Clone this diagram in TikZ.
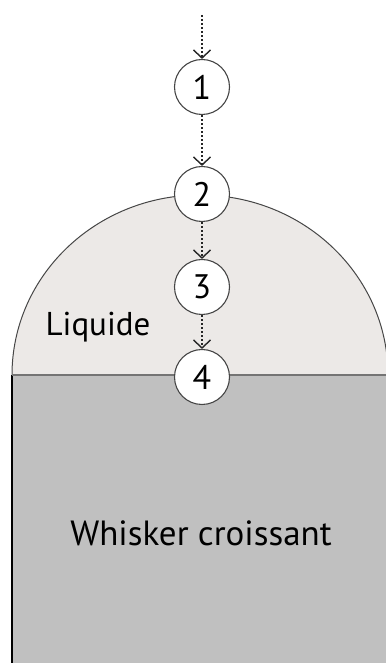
\documentclass[tikz,border=0pt]{standalone}
\usepackage{fontspec}
\setmainfont{PT Sans}
\usetikzlibrary{arrows.meta}
\definecolor{liquidfill}{RGB}{236,233,231}
\definecolor{whiskerfill}{RGB}{192,192,192}
\definecolor{edgegray}{RGB}{70,70,70}
\begin{document}
\begin{tikzpicture}[x=1pt,y=1pt,
  stage/.style={circle,draw=edgegray,line width=1.1pt,fill=white,minimum size=55pt,inner sep=0pt,font=\fontsize{34}{34}\selectfont},
  flow/.style={line width=2.2pt,dash pattern=on 2pt off 2pt,draw=black!85,-{Straight Barb[length=8pt,width=17pt,line width=1.4pt]}}]
\useasboundingbox (0,0) rectangle (385,663);
\fill[whiskerfill] (12,0) rectangle (400,288); \draw[line width=1.2pt] (12,0)--(12,288);
\filldraw[fill=liquidfill,draw=edgegray,line width=1pt] (12,288) arc[start angle=180,end angle=0,x radius=188,y radius=180];
\draw[edgegray!75,line width=1.8pt] (12,288)--(400,288);
\node[stage] (s1) at (202,576){1}; \node[stage] (s2) at (202,469){2};
\node[stage] (s3) at (202,376){3}; \node[stage] (s4) at (202,286){4};
\coordinate (in) at (202,648);
\draw[flow] (in)--(s1); \draw[flow] (s1)--(s2); \draw[flow] (s2)--(s3); \draw[flow] (s3)--(s4);
\node[font=\fontsize{33}{33}\selectfont] (liq) at (98,336){Liquide};
\node[font=\fontsize{35}{35}\selectfont] (wsk) at (201,130){Whisker croissant};
\end{tikzpicture}
\end{document}
